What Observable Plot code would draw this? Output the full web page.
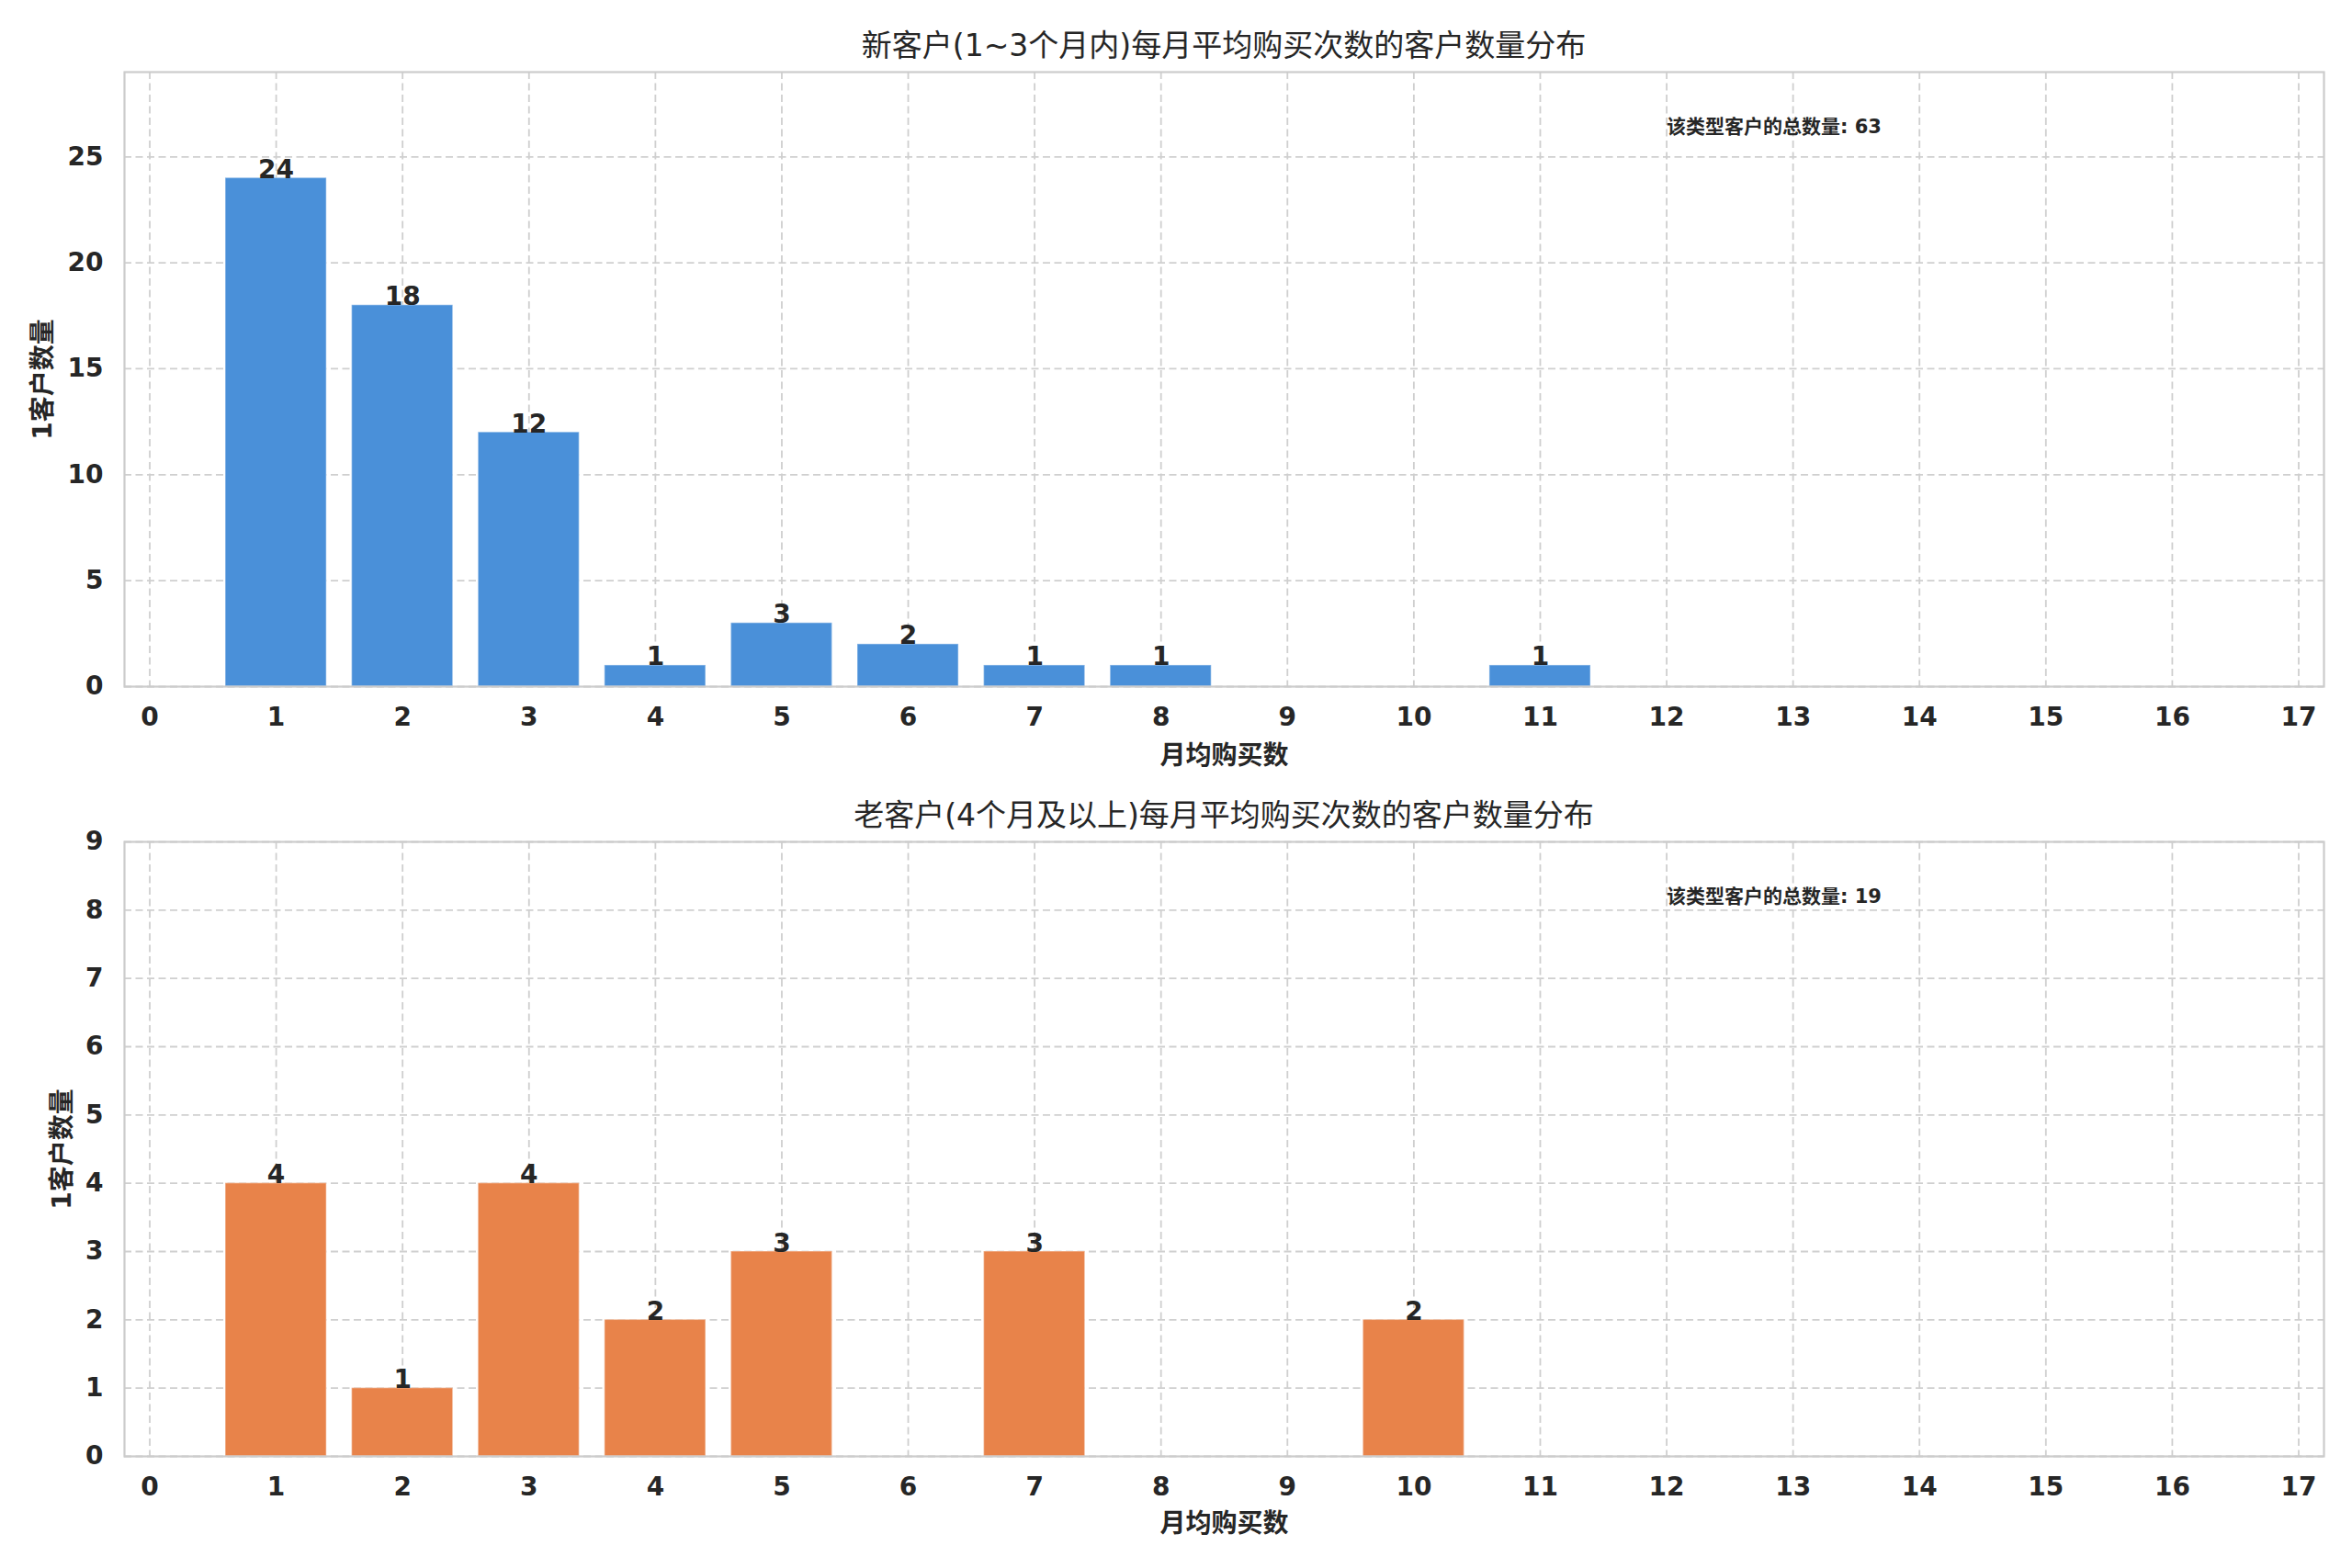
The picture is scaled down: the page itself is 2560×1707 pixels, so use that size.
<!DOCTYPE html>
<html>
<head>
<meta charset="utf-8">
<script src="https://cdn.jsdelivr.net/npm/d3@7"></script>
<script src="https://cdn.jsdelivr.net/npm/@observablehq/plot@0.6"></script>
<style>
  html, body { margin: 0; padding: 0; background: #fff; }
  #page { position: relative; width: 2560px; height: 1707px; background: #fff; overflow: hidden; }
  .title { position: absolute; left: 135px; width: 2394px; text-align: center;
           font-family: 'DejaVu Sans', 'Noto Sans CJK SC', sans-serif; font-size: 33px;
           color: #262626; line-height: 40px; white-space: nowrap; }
  .panel { position: absolute; left: 0; }
</style>
</head>
<body>
<div id="page"></div>
<script>
// ---- data ----
const xTickValues = [0, 1, 2, 3, 4, 5, 6, 7, 8, 9, 10, 11, 12, 13, 14, 15, 16, 17];

const title1 = "新客户(1~3个月内)每月平均购买次数的客户数量分布";
const title2 = "老客户(4个月及以上)每月平均购买次数的客户数量分布";
const xLabel = "月均购买数";
const yLabel = "1客户数量";
const totalLabel = "该类型客户的总数量";

const newFreq = [1, 2, 3, 4, 5, 6, 7, 8, 11];
const newCount = [24, 18, 12, 1, 3, 2, 1, 1, 1];
const newTotal = 63;
const newYTicks = [0, 5, 10, 15, 20, 25];
const newYMax = 29;

const oldFreq = [1, 2, 3, 4, 5, 7, 10];
const oldCount = [4, 1, 4, 2, 3, 3, 2];
const oldTotal = 19;
const oldYTicks = [0, 1, 2, 3, 4, 5, 6, 7, 8, 9];
const oldYMax = 9;

const FONT = "'DejaVu Sans', 'Noto Sans CJK SC', sans-serif";
const TEXT = "#262626";

function panel({freq, count, total, yTicks, yMax, color, heightPx, marginTop, marginBottom, yLabelDx, xLabelDy}) {
  const data = freq.map((f, i) => ({f, c: count[i]}));
  const gridStyle = {stroke: "#cfcfcf", strokeOpacity: 1, strokeWidth: 1.8, strokeDasharray: "8,4.5"};
  return Plot.plot({
    width: 2560,
    height: heightPx,
    marginLeft: 135,
    marginRight: 31,
    marginTop,
    marginBottom,
    style: {fontFamily: FONT, fontSize: "28px", color: TEXT, background: "#fff", overflow: "visible"},
    x: {domain: [-0.2, 17.2]},
    y: {domain: [0, yMax]},
    marks: [
      Plot.gridX(xTickValues, gridStyle),
      Plot.gridY(yTicks, gridStyle),
      Plot.rectY(data, {x1: d => d.f - 0.4, x2: d => d.f + 0.4, y1: 0, y2: "c", fill: color,
        stroke: "#ffffff", strokeOpacity: 0.35, strokeWidth: 1.5}),
      Plot.text(data, {x: "f", y: "c", text: d => String(d.c), lineAnchor: "bottom",
        fontWeight: "bold", fontSize: 28, fill: TEXT}),
      Plot.frame({stroke: "#cccccc", strokeWidth: 2.2}),
      Plot.axisX(xTickValues, {tickSize: 0, tickPadding: 23, tickFormat: d => String(d),
        fontWeight: "bold", fontSize: 28, label: null, fill: TEXT}),
      Plot.axisY(yTicks, {tickSize: 0, tickPadding: 23, tickFormat: d => String(d),
        fontWeight: "bold", fontSize: 28, label: null, fill: TEXT}),
      Plot.text([totalLabel + ": " + total], {x: 12, y: yMax * 0.91, text: d => d, textAnchor: "start",
        fontWeight: "bold", fontSize: 21, fill: TEXT}),
      Plot.text([xLabel], {frameAnchor: "bottom", text: d => d, dy: xLabelDy, lineAnchor: "middle",
        textAnchor: "middle", fontWeight: "bold", fontSize: 28, fill: TEXT}),
      Plot.text([yLabel], {frameAnchor: "left", text: d => d, dx: yLabelDx, rotate: -90, lineAnchor: "middle",
        textAnchor: "middle", fontWeight: "bold", fontSize: 28, fill: TEXT})
    ]
  });
}

const page = document.getElementById("page");

function addTitle(text, centerY) {
  const t = document.createElement("div");
  t.className = "title";
  t.textContent = text;
  t.style.top = (centerY - 20) + "px";
  page.appendChild(t);
}

const p1 = panel({freq: newFreq, count: newCount, total: newTotal, yTicks: newYTicks, yMax: newYMax,
  color: "#4A90D9", heightPx: 838, marginTop: 78, marginBottom: 91, yLabelDx: -88, xLabelDy: 76});
const w1 = document.createElement("div");
w1.className = "panel"; w1.style.top = "0px"; w1.appendChild(p1); page.appendChild(w1);

const p2 = panel({freq: oldFreq, count: oldCount, total: oldTotal, yTicks: oldYTicks, yMax: oldYMax,
  color: "#E8834A", heightPx: 869, marginTop: 78, marginBottom: 122, yLabelDx: -67, xLabelDy: 74});
const w2 = document.createElement("div");
w2.className = "panel"; w2.style.top = "838px"; w2.appendChild(p2); page.appendChild(w2);

addTitle(title1, 50);
addTitle(title2, 888);
</script>
</body>
</html>
